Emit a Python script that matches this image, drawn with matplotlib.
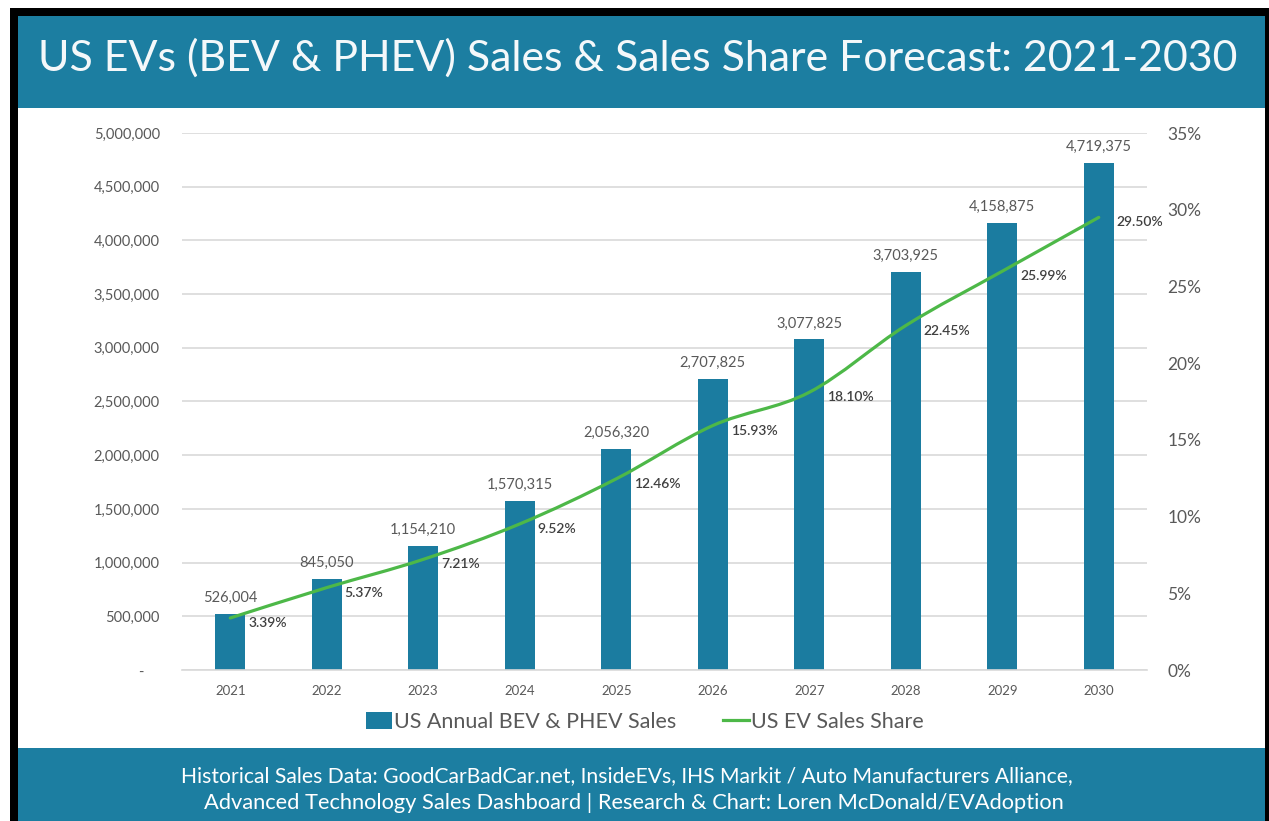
import matplotlib
matplotlib.use('Agg')
import matplotlib.pyplot as plt
from matplotlib.path import Path
from matplotlib.patches import PathPatch, Rectangle
from matplotlib.lines import Line2D

plt.rcParams['font.family'] = ['Lato', 'DejaVu Sans']

# ---- data ----
years = ['2021', '2022', '2023', '2024', '2025', '2026', '2027', '2028', '2029', '2030']
sales = [526004, 845050, 1154210, 1570315, 2056320, 2707825, 3077825, 3703925, 4158875, 4719375]
share = [3.39, 5.37, 7.21, 9.52, 12.46, 15.93, 18.10, 22.45, 25.99, 29.50]
left_ticks = [0, 500000, 1000000, 1500000, 2000000, 2500000, 3000000, 3500000, 4000000, 4500000, 5000000]
right_ticks = [0, 5, 10, 15, 20, 25, 30, 35]

title = 'US EVs (BEV & PHEV) Sales & Sales Share Forecast: 2021-2030'
footer1 = 'Historical Sales Data: GoodCarBadCar.net, InsideEVs, IHS Markit / Auto Manufacturers Alliance,'
footer2 = 'Advanced Technology Sales Dashboard | Research & Chart: Loren McDonald/EVAdoption'
bar_label = 'US Annual BEV & PHEV Sales'
line_label = 'US EV Sales Share'

TEAL = '#1C7EA1'
BAR = '#1B7CA0'
GREEN = '#4DB848'
GREY = '#595959'
GRID = '#D9D9D9'

W, H = 1269, 821
fig = plt.figure(figsize=(W / 100, H / 100), dpi=100)
fig.patch.set_facecolor('white')


def rect(x0, y0, x1, y1, color):
    fig.patches.append(Rectangle((x0 / W, 1 - y1 / H), (x1 - x0) / W, (y1 - y0) / H,
                                 transform=fig.transFigure, facecolor=color,
                                 edgecolor='none', zorder=-10))


rect(10, 8, W, H, 'black')
rect(18, 16, 1265, 108, TEAL)
rect(18, 108, 1265, 748, 'white')
rect(18, 748, 1265, H, TEAL)

renderer = fig.canvas.get_renderer()


def fit_text(x, y, s, target_w, fs0, **kw):
    t = fig.text(x / W, 1 - y / H, s, fontsize=fs0, ha='center', va='center', **kw)
    w = t.get_window_extent(renderer).width
    t.set_fontsize(fs0 * target_w / w)
    return t


fit_text(638, 58, title, 1203, 24, color='#F4F8FA')
fit_text(627, 776, footer1, 890, 13, color='white')
fit_text(634, 803, footer2, 858, 13, color='white')

# ---- axes ----
ax = fig.add_axes([182 / W, 1 - 670 / H, 965 / W, 537 / H])
ax.patch.set_alpha(0)
x = list(range(len(years)))
ax.bar(x, sales, width=0.31, color=BAR, zorder=2)
ax.set_xlim(-0.5, len(years) - 0.5)
ax.set_ylim(0, 5000000)
ax.set_yticks(left_ticks)
ax.set_yticklabels(['-    ' if v == 0 else f'{v:,}' for v in left_ticks])
ax.set_xticks(x)
ax.set_xticklabels(years)
ax.yaxis.grid(True, color=GRID, lw=1.2)
ax.set_axisbelow(True)
for s in ['left', 'right', 'top']:
    ax.spines[s].set_visible(False)
ax.spines['bottom'].set_color(GRID)
ax.spines['bottom'].set_linewidth(1.2)
ax.tick_params(axis='y', length=0, pad=16, labelsize=10.5, labelcolor=GREY)
ax.tick_params(axis='x', length=0, pad=11, labelsize=9.5, labelcolor=GREY)

for i, v in enumerate(sales):
    ax.annotate(f'{v:,}', (i, v), xytext=(0, 16), textcoords='offset pixels',
                ha='center', va='center', fontsize=10.5, color=GREY)

ax2 = ax.twinx()
ax2.set_ylim(0, 35)
ax2.set_yticks(right_ticks)
ax2.set_yticklabels([f'{v}%' for v in right_ticks])
for s in ax2.spines.values():
    s.set_visible(False)
ax2.tick_params(axis='y', length=0, pad=14.5, labelsize=12.5, labelcolor=GREY)

# smooth line (Catmull-Rom as cubic Bezier through data points)
pts = list(zip(x, share))
verts = [pts[0]]
codes = [Path.MOVETO]
n = len(pts)
for i in range(n - 1):
    p0 = pts[i - 1] if i > 0 else pts[i]
    p1 = pts[i]
    p2 = pts[i + 1]
    p3 = pts[i + 2] if i + 2 < n else pts[i + 1]
    c1 = (p1[0] + (p2[0] - p0[0]) / 6, p1[1] + (p2[1] - p0[1]) / 6)
    c2 = (p2[0] - (p3[0] - p1[0]) / 6, p2[1] - (p3[1] - p1[1]) / 6)
    verts += [c1, c2, p2]
    codes += [Path.CURVE4] * 3
ax2.add_patch(PathPatch(Path(verts, codes), facecolor='none', edgecolor=GREEN,
                        lw=2.3, capstyle='round', joinstyle='round', zorder=3))

for i, v in enumerate(share):
    ax2.annotate(f'{v:.2f}%', (i, v), xytext=(18, -5), textcoords='offset pixels',
                 ha='left', va='center', fontsize=10, color='#404040', fontweight='semibold')

handles = [Rectangle((0, 0), 1, 1, facecolor=BAR, edgecolor='none'),
           Line2D([], [], color=GREEN, lw=2.3)]
fig.legend(handles, [bar_label, line_label], loc='center',
           bbox_to_anchor=(645 / W, 1 - 722 / H), ncol=2, frameon=False,
           fontsize=15.5, labelcolor=GREY, handlelength=1.2, handleheight=0.8,
           handletextpad=0.1, columnspacing=2.2)

fig.savefig('out.png', dpi=100)
